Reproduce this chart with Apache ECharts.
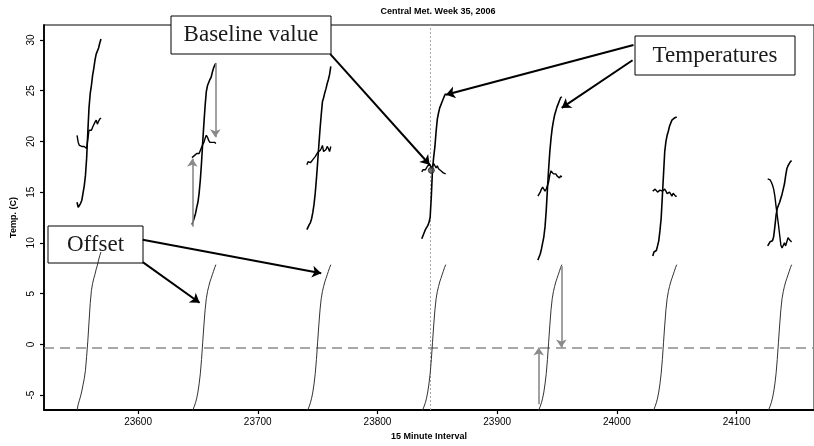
<!DOCTYPE html>
<html><head><meta charset="utf-8">
<script src="https://cdn.jsdelivr.net/npm/echarts@6/dist/echarts.min.js"></script>
<style>html,body{margin:0;padding:0;background:#fff}#c{width:814px;height:446px}</style>
</head><body><div id="c"></div>
<script>
// ---- data (15-minute intervals, one block of 21 intervals per day) ----
const dayStart = [23549, 23645, 23741, 23837, 23934, 24030, 24126];

const temperature = [
  [14.0, 13.5, 13.5, 13.9, 14.2, 14.9, 15.6, 16.6, 18.3, 20.9, 23.3, 24.7, 25.5, 26.5, 27.2, 28.0, 28.6, 28.7, 29.2, 29.7, 30.1],
  [11.8, 12.1, 12.5, 12.9, 13.5, 14.0, 14.9, 16.2, 17.9, 19.9, 21.8, 23.5, 24.9, 25.5, 25.8, 26.1, 26.3, 26.8, 27.2, 27.5, 27.7],
  [11.3, 11.4, 11.8, 12.0, 12.4, 13.0, 13.8, 14.9, 16.3, 17.9, 19.6, 21.2, 22.6, 23.9, 24.3, 24.8, 25.2, 25.7, 26.1, 26.6, 27.4],
  [10.4, 10.7, 11.0, 11.3, 11.5, 11.7, 12.0, 12.5, 14.6, 17.3, 18.5, 19.5, 21.0, 22.2, 22.8, 23.3, 23.6, 23.9, 24.2, 24.5, 24.7],
  [8.3, 8.6, 8.9, 9.4, 10.0, 10.6, 11.6, 13.2, 15.3, 17.3, 19.0, 20.3, 21.3, 22.0, 22.6, 23.0, 23.4, 23.7, 24.0, 24.3, 24.4],
  [8.7, 9.1, 9.2, 9.25, 9.7, 10.2, 11.2, 12.4, 14.6, 16.8, 19.0, 20.0, 20.6, 21.0, 21.5, 21.8, 22.1, 22.2, 22.3, 22.35, 22.4],
  [9.7, 9.9, 10.1, 10.1, 10.2, 10.6, 11.6, 12.7, 13.4, 13.7, 14.0, 14.4, 14.8, 15.3, 15.8, 16.6, 17.3, 17.6, 17.8, 18.0, 18.1]
];

const baseline = [
  [20.6, 19.9, 19.6, 19.7, 19.5, 19.6, 19.5, 19.4, 19.3, 19.4, 21.1, 21.2, 21.1, 21.4, 21.5, 21.9, 22.1, 21.7, 22.0, 22.2, 22.3],
  [18.4, 18.5, 18.6, 18.7, 18.8, 18.7, 18.8, 19.1, 19.4, 19.7, 19.9, 20.3, 20.6, 20.4, 20.1, 19.9, 19.8, 19.9, 20.0, 19.9, 19.8],
  [17.7, 18.0, 18.1, 17.9, 18.0, 18.2, 18.3, 18.5, 18.7, 18.9, 19.0, 19.1, 19.3, 19.6, 19.0, 18.9, 19.2, 19.5, 19.3, 19.0, 19.5],
  [17.0, 17.2, 17.25, 17.2, 17.3, 17.6, 17.5, 17.7, 17.3, 17.6, 17.8, 17.6, 17.4, 17.6, 17.3, 17.2, 17.1, 17.0, 16.9, 16.8, 16.8],
  [14.6, 14.8, 15.0, 15.3, 15.5, 15.4, 15.1, 15.3, 15.4, 16.0, 16.7, 17.1, 17.0, 16.8, 16.9, 16.8, 16.6, 16.5, 16.4, 16.6, 16.5],
  [15.1, 15.2, 15.3, 15.2, 15.0, 15.1, 15.2, 15.3, 15.1, 14.95, 15.3, 15.1, 14.85, 14.9, 15.0, 14.8, 14.6, 14.9, 14.8, 14.6, 14.6],
  [16.3, 16.3, 16.2, 16.0, 15.7, 15.3, 14.6, 13.6, 12.7, 11.8, 10.8, 9.8, 9.5, 9.4, 10.0, 9.7, 9.6, 10.5, 10.6, 10.2, 10.1]
];

const offsetDay1 = [-6.5, -5.9, -5.5, -5.1, -4.6, -4.0, -3.4, -2.6, -1.2, 0.3, 2.2, 4.0, 5.3, 6.0, 6.5, 6.9, 7.4, 7.8, 8.3, 8.75, 9.1];
const offsetOther = [-6.6, -6.4, -6.1, -5.75, -5.3, -4.7, -3.9, -2.9, -1.5, 0.2, 1.9, 3.4, 4.5, 5.2, 5.7, 6.15, 6.5, 6.85, 7.2, 7.55, 7.85];

const xTicks = [23600, 23700, 23800, 23900, 24000, 24100];
const yTicks = [-5, 0, 5, 10, 15, 20, 25, 30];
const zeroRef = -0.3;
const dayMarkX = 23844.5;
const baselineMark = [23845, 17.15];

// annotation arrows (data coordinates)
const blackArrows = [
  [[23760.6, 28.6], [23843.6, 17.7]],
  [[24013.9, 29.5], [23857.2, 24.6]],
  [[24013.1, 28.0], [23953.9, 23.3]],
  [[23603.9, 10.3], [23753.0, 7.0]],
  [[23603.9, 8.1], [23651.4, 4.1]]
];
const greyArrows = [
  [[23645.3, 11.6], [23645.3, 18.3]],
  [[23664.5, 27.7], [23664.5, 20.4]],
  [[23934.7, -5.9], [23934.7, -0.3]],
  [[23953.6, 7.7], [23953.6, -0.3]]
];

// ---- chart ----
const chart = echarts.init(document.getElementById('c'), null, {renderer: 'canvas'});
const series = [];
for (let d = 0; d < dayStart.length; d++) {
  const off = d === 0 ? offsetDay1 : offsetOther;
  series.push({
    type: 'line', silent: true, showSymbol: false, z: 2,
    data: off.map((v, i) => [dayStart[d] + i, v]),
    lineStyle: {color: '#333', width: 1},
    markLine: d === 0 ? {
      silent: true, symbol: ['none', 'none'], label: {show: false}, z: 1,
      data: [
        {yAxis: zeroRef, lineStyle: {type: [10, 6], color: '#8c8c8c', width: 1.6}},
        {xAxis: dayMarkX, lineStyle: {type: [2, 2], color: '#aaa', width: 1}}
      ]
    } : undefined
  });
  series.push({
    type: 'line', silent: true, showSymbol: false, z: 3,
    data: temperature[d].map((v, i) => [dayStart[d] + i, v]),
    lineStyle: {color: '#000', width: 1.6}
  });
  series.push({
    type: 'line', silent: true, showSymbol: false, z: 3,
    data: baseline[d].map((v, i) => [dayStart[d] + i, v]),
    lineStyle: {color: '#000', width: 1.4}
  });
}
series.push({
  type: 'scatter', silent: true, z: 4, symbol: 'circle', symbolSize: 6,
  itemStyle: {color: '#555', borderColor: '#222', borderWidth: 1},
  data: [baselineMark]
});
series.push({
  type: 'lines', coordinateSystem: 'cartesian2d', silent: true, z: 5,
  symbol: ['none', 'arrow'], symbolSize: 9,
  lineStyle: {color: '#000', width: 2, opacity: 1, curveness: 0},
  data: blackArrows.map(c => ({coords: c}))
});
series.push({
  type: 'lines', coordinateSystem: 'cartesian2d', silent: true, z: 5,
  symbol: ['none', 'arrow'], symbolSize: 8,
  lineStyle: {color: '#8a8a8a', width: 1.6, opacity: 1, curveness: 0},
  data: greyArrows.map(c => ({coords: c}))
});

const sans = '"Liberation Sans", Arial, sans-serif';
const serif = '"Liberation Serif", "DejaVu Serif", serif';
function box(x, y, w, h, txt) {
  return {
    type: 'group', z: 100,
    children: [
      {type: 'rect', shape: {x: x, y: y, width: w, height: h}, style: {fill: '#fff', stroke: '#000', lineWidth: 1}},
      {type: 'text', x: x + w / 2, y: y + h / 2, style: {text: txt, font: '23px ' + serif, fill: '#1a1a1a', align: 'center', verticalAlign: 'middle'}}
    ]
  };
}

chart.setOption({
  animation: false,
  backgroundColor: '#fff',
  title: {
    text: 'Central Met. Week 35, 2006', left: 433, top: 2, textAlign: 'center',
    textStyle: {fontSize: 9, fontWeight: 'bold', fontFamily: sans, color: '#000'}
  },
  grid: {left: 44, right: -2, top: 25, bottom: 34, show: true, borderColor: '#000', borderWidth: 1, backgroundColor: 'transparent'},
  xAxis: {
    type: 'value', min: 23521.4, max: 24164.7,
    name: '15 Minute Interval', nameLocation: 'middle', nameGap: 22,
    nameTextStyle: {fontSize: 9, fontWeight: 'bold', fontFamily: sans, color: '#000'},
    axisLine: {show: true, onZero: false, lineStyle: {color: '#000', width: 1.8}},
    axisTick: {show: true, inside: false, length: 4, customValues: xTicks, lineStyle: {color: '#000', width: 1.2}},
    axisLabel: {customValues: xTicks, margin: 7, fontSize: 10, fontFamily: sans, color: '#000', formatter: v => String(v)},
    splitLine: {show: false}
  },
  yAxis: {
    type: 'value', min: -6.47, max: 31.47,
    name: 'Temp. (C)', nameLocation: 'middle', nameGap: 20,
    nameTextStyle: {fontSize: 9, fontWeight: 'bold', fontFamily: sans, color: '#000'},
    axisLine: {show: true, onZero: false, lineStyle: {color: '#000', width: 1.8}},
    axisTick: {show: true, inside: false, length: 4, customValues: yTicks, lineStyle: {color: '#000', width: 1.2}},
    axisLabel: {customValues: yTicks, rotate: 90, margin: 8, fontSize: 10, fontFamily: sans, color: '#000', formatter: v => String(v)},
    splitLine: {show: false}
  },
  series: series,
  graphic: [
    box(171, 16, 160, 38, 'Baseline value'),
    box(635, 36, 160, 39, 'Temperatures'),
    box(48, 226, 95, 37, 'Offset')
  ]
});
</script>
</body></html>
